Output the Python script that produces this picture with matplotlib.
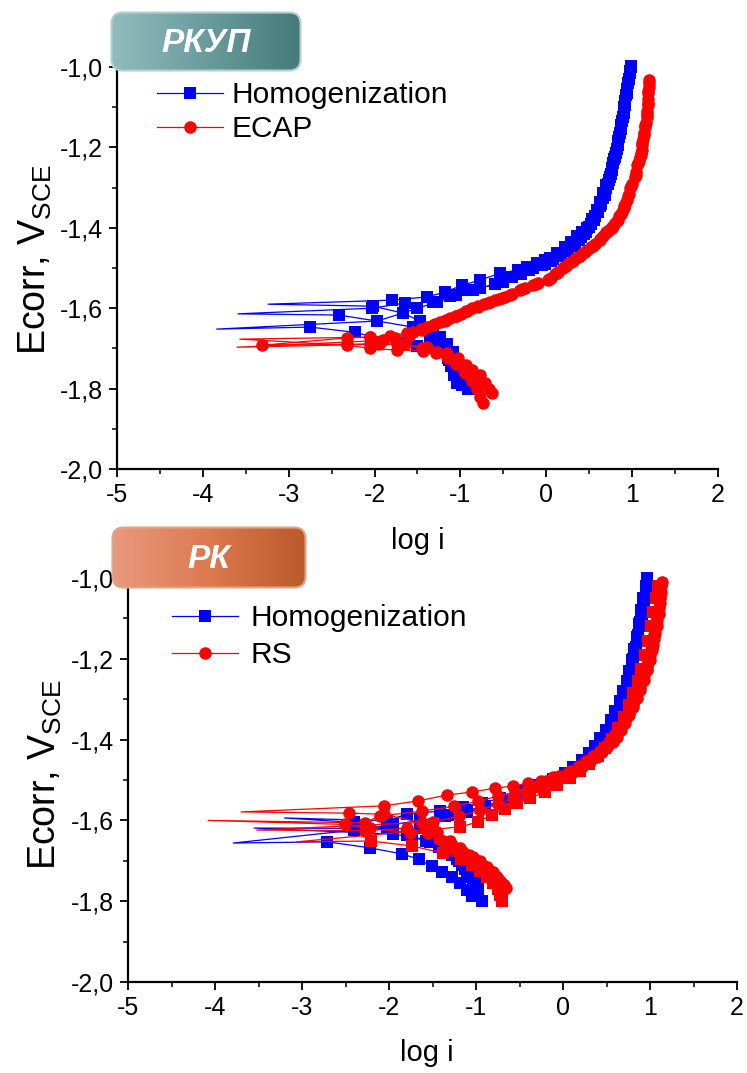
import numpy as np
import matplotlib
matplotlib.use("Agg")
import matplotlib.pyplot as plt
from matplotlib.patches import FancyBboxPatch
from matplotlib.colors import LinearSegmentedColormap
from matplotlib.lines import Line2D
from matplotlib.ticker import MultipleLocator, FuncFormatter
from matplotlib import font_manager

# ---------------- data (log i, E) ----------------
# Top panel (РКУП): Homogenization runs (blue squares)
TOP_H1_X = [-0.91, -0.93, -0.97, -1.03, -1.09, -1.16, -1.24, -1.32, -1.47, -1.67, -2.02, -3.24,
            -1.80, -1.39, -1.18, -0.98, -0.77, -0.54, -0.33, -0.23, -0.11, -0.02, 0.04, 0.13, 0.22,
            0.29, 0.36, 0.42, 0.47, 0.53, 0.59, 0.63, 0.66, 0.70, 0.74, 0.77, 0.80, 0.83, 0.86,
            0.885, 0.91, 0.93, 0.95, 0.97, 0.99]
TOP_H1_Y = [-1.80, -1.78, -1.76, -1.735, -1.71, -1.688, -1.672, -1.655, -1.632, -1.612, -1.595, -1.59,
            -1.58, -1.572, -1.56, -1.543, -1.53, -1.513, -1.505, -1.497, -1.488, -1.48, -1.474, -1.462,
            -1.448, -1.435, -1.42, -1.41, -1.40, -1.378, -1.356, -1.335, -1.313, -1.294, -1.274,
            -1.25, -1.224, -1.195, -1.165, -1.135, -1.10, -1.07, -1.04, -1.015, -0.998]
TOP_H2_X = [-1.04, -1.07, -1.11, -1.15, -1.20, -1.27, -1.36, -1.55, -1.97, -2.42, -3.59,
            -2.03, -1.64, -1.32, -1.12, -0.95, -0.77, -0.50, -0.30, -0.15, -0.02, 0.08, 0.17, 0.25,
            0.33, 0.40, 0.46, 0.52, 0.57, 0.62, 0.66, 0.70, 0.73, 0.76, 0.79, 0.82, 0.85, 0.875,
            0.90, 0.92, 0.94, 0.96]
TOP_H2_Y = [-1.786, -1.765, -1.745, -1.725, -1.705, -1.69, -1.67, -1.647, -1.632, -1.617, -1.614,
            -1.60, -1.587, -1.585, -1.57, -1.555, -1.55, -1.535, -1.515, -1.50, -1.49, -1.478,
            -1.465, -1.452, -1.438, -1.424, -1.41, -1.39, -1.37, -1.347, -1.325, -1.30, -1.28,
            -1.255, -1.23, -1.205, -1.175, -1.145, -1.115, -1.085, -1.055, -1.03]
TOP_H3_X = [-0.98, -1.02, -1.07, -1.13, -1.20, -1.32, -1.50, -1.68, -2.23, -2.75, -3.84,
            -1.97, -1.67, -1.50, -1.27, -1.05, -0.85, -0.60, -0.40, -0.20, -0.05, 0.06, 0.15, 0.24,
            0.31, 0.38, 0.44, 0.50, 0.55, 0.60, 0.64, 0.68, 0.72, 0.75, 0.78, 0.81, 0.84, 0.87,
            0.89, 0.915, 0.935, 0.955, 0.975, 0.99]
TOP_H3_Y = [-1.79, -1.77, -1.75, -1.728, -1.71, -1.70, -1.695, -1.69, -1.66, -1.647, -1.652,
            -1.632, -1.612, -1.60, -1.585, -1.568, -1.555, -1.54, -1.522, -1.505, -1.493, -1.483,
            -1.47, -1.458, -1.445, -1.43, -1.416, -1.398, -1.38, -1.36, -1.34, -1.318, -1.29,
            -1.265, -1.24, -1.215, -1.185, -1.155, -1.125, -1.095, -1.065, -1.04, -1.01, -1.0]

# Top panel: ECAP runs (red circles)
TOP_E1_X = [-0.74, -0.77, -0.81, -0.87, -0.95, -1.04, -1.16, -1.27, -1.44, -1.74, -2.05, -2.32, -3.57,
            -2.05, -1.76, -1.55, -1.39, -1.24, -1.12, -0.99, -0.86, -0.73, -0.60, -0.48, -0.31, -0.16,
            0.02, 0.10, 0.19, 0.27, 0.35, 0.43, 0.52, 0.62, 0.70, 0.76, 0.80, 0.85, 0.90, 0.94,
            0.98, 1.03, 1.06, 1.09, 1.11, 1.13, 1.15, 1.17, 1.18, 1.19, 1.20]
TOP_E1_Y = [-1.836, -1.82, -1.80, -1.78, -1.76, -1.74, -1.722, -1.71, -1.706, -1.704, -1.70, -1.692, -1.677,
            -1.672, -1.674, -1.66, -1.647, -1.635, -1.625, -1.615, -1.60, -1.59, -1.58, -1.572, -1.555,
            -1.542, -1.53, -1.515, -1.50, -1.487, -1.475, -1.463, -1.447, -1.43, -1.41, -1.40, -1.388,
            -1.37, -1.35, -1.33, -1.30, -1.274, -1.245, -1.225, -1.206, -1.18, -1.15, -1.124, -1.095,
            -1.065, -1.032]
TOP_E2_X = [-0.63, -0.67, -0.71, -0.77, -0.86, -0.93, -1.03, -1.16, -1.39, -1.74, -2.05, -3.60,
            -1.90, -1.60, -1.45, -1.30, -1.17, -1.05, -0.92, -0.80, -0.66, -0.52, -0.40, -0.25, -0.10,
            0.05, 0.14, 0.23, 0.31, 0.39, 0.48, 0.57, 0.66, 0.73, 0.78, 0.83, 0.88, 0.92, 0.96, 1.00,
            1.05, 1.08, 1.10, 1.12, 1.14, 1.16, 1.175, 1.185, 1.195]
TOP_E2_Y = [-1.81, -1.80, -1.786, -1.766, -1.754, -1.742, -1.725, -1.712, -1.697, -1.69, -1.69, -1.697,
            -1.68, -1.67, -1.655, -1.64, -1.63, -1.62, -1.607, -1.595, -1.585, -1.575, -1.565, -1.55,
            -1.538, -1.525, -1.51, -1.495, -1.482, -1.47, -1.455, -1.44, -1.42, -1.405, -1.395, -1.38,
            -1.36, -1.34, -1.315, -1.29, -1.26, -1.235, -1.215, -1.19, -1.165, -1.14, -1.11, -1.08, -1.05]
TOP_E3_X = [-0.80, -0.84, -0.89, -0.96, -1.05, -1.15, -1.28, -1.45, -1.65, -1.95, -2.32, -3.31,
            -2.32, -2.05, -1.82, -1.62, -1.46, -1.32, -1.18, -1.05, -0.93, -0.80, -0.68, -0.55, -0.42,
            -0.28, -0.12, 0.03, 0.12, 0.21, 0.29, 0.37, 0.45, 0.54, 0.63, 0.71, 0.77, 0.82, 0.87, 0.91,
            0.95, 0.99, 1.04, 1.07, 1.10, 1.12, 1.14, 1.155, 1.17, 1.18, 1.19, 1.20]
TOP_E3_Y = [-1.79, -1.778, -1.765, -1.752, -1.738, -1.725, -1.712, -1.70, -1.69, -1.688, -1.69, -1.692,
            -1.674, -1.672, -1.668, -1.662, -1.652, -1.642, -1.632, -1.62, -1.608, -1.597, -1.588,
            -1.578, -1.567, -1.553, -1.54, -1.527, -1.512, -1.497, -1.485, -1.472, -1.46, -1.445,
            -1.428, -1.41, -1.398, -1.383, -1.365, -1.345, -1.322, -1.297, -1.268, -1.24, -1.218,
            -1.195, -1.17, -1.145, -1.118, -1.09, -1.06, -1.04]

# Bottom panel (РК): Homogenization runs (blue squares)
BOT_H1_X = [-1.00, -1.05, -1.10, -1.16, -1.22, -1.30, -1.42, -1.58, -1.79, -2.02, -2.40, -3.20,
            -2.02, -1.79, -1.41, -1.15, -0.93, -0.72, -0.50, -0.30, -0.12, 0.02, 0.12, 0.22, 0.30,
            0.37, 0.43, 0.49, 0.55, 0.60, 0.65, 0.69, 0.73, 0.76, 0.79, 0.82, 0.845, 0.87, 0.90,
            0.925, 0.95, 0.97]
BOT_H1_Y = [-1.755, -1.74, -1.725, -1.71, -1.695, -1.68, -1.665, -1.65, -1.635, -1.62, -1.605, -1.594,
            -1.601, -1.584, -1.577, -1.568, -1.557, -1.545, -1.528, -1.512, -1.497, -1.482, -1.468,
            -1.45, -1.432, -1.415, -1.395, -1.375, -1.352, -1.33, -1.305, -1.28, -1.255, -1.23,
            -1.203, -1.175, -1.146, -1.115, -1.08, -1.05, -1.02, -1.0]
BOT_H2_X = [-0.98, -1.03, -1.08, -1.13, -1.20, -1.28, -1.36, -1.53, -1.74, -1.95, -3.55,
            -1.64, -1.32, -1.10, -0.90, -0.70, -0.48, -0.28, -0.10, 0.04, 0.14, 0.24, 0.32, 0.39,
            0.45, 0.51, 0.57, 0.62, 0.66, 0.70, 0.74, 0.77, 0.80, 0.83, 0.86, 0.88, 0.91, 0.93, 0.955]
BOT_H2_Y = [-1.77, -1.755, -1.74, -1.72, -1.70, -1.685, -1.665, -1.653, -1.641, -1.634, -1.619,
            -1.62, -1.587, -1.575, -1.565, -1.55, -1.532, -1.515, -1.50, -1.486, -1.472, -1.455,
            -1.437, -1.42, -1.40, -1.38, -1.358, -1.335, -1.31, -1.285, -1.26, -1.235, -1.21,
            -1.18, -1.15, -1.12, -1.09, -1.06, -1.03]
BOT_H3_X = [-0.93, -1.05, -1.10, -1.18, -1.28, -1.39, -1.51, -1.66, -1.85, -2.22, -2.71, -3.79,
            -2.40, -1.95, -1.64, -1.36, -1.12, -0.90, -0.68, -0.46, -0.26, -0.08, 0.06, 0.16, 0.25,
            0.33, 0.40, 0.47, 0.53, 0.58, 0.63, 0.67, 0.71, 0.75, 0.78, 0.81, 0.84, 0.865, 0.89,
            0.915, 0.94, 0.96]
BOT_H3_Y = [-1.80, -1.787, -1.772, -1.755, -1.74, -1.728, -1.713, -1.696, -1.683, -1.668, -1.653, -1.656,
            -1.624, -1.61, -1.60, -1.59, -1.58, -1.568, -1.552, -1.535, -1.518, -1.503, -1.49,
            -1.475, -1.458, -1.44, -1.42, -1.40, -1.378, -1.355, -1.33, -1.305, -1.28, -1.255,
            -1.23, -1.20, -1.17, -1.14, -1.11, -1.08, -1.05, -1.02]

# Bottom panel: RS runs (red; three with circles, one with squares)
BOT_R1_X = [-0.66, -0.69, -0.73, -0.78, -0.84, -0.91, -0.99, -1.08, -1.18, -1.30, -1.45, -1.62, -2.06,
            -2.46, -3.70, -2.06, -1.67, -1.33, -1.05, -0.78, -0.57, -0.40, -0.25, -0.11, 0.06, 0.16,
            0.22, 0.31, 0.39, 0.45, 0.51, 0.57, 0.62, 0.67, 0.71, 0.76, 0.80, 0.85, 0.89, 0.93, 0.97,
            1.00, 1.02, 1.05, 1.08, 1.10, 1.11, 1.13, 1.14]
BOT_R1_Y = [-1.767, -1.757, -1.747, -1.737, -1.726, -1.713, -1.70, -1.685, -1.668, -1.65, -1.628, -1.606,
            -1.585, -1.582, -1.579, -1.564, -1.552, -1.537, -1.53, -1.52, -1.515, -1.508, -1.502,
            -1.493, -1.483, -1.474, -1.468, -1.455, -1.443, -1.43, -1.418, -1.405, -1.393, -1.375,
            -1.36, -1.34, -1.32, -1.298, -1.277, -1.252, -1.228, -1.203, -1.178, -1.15, -1.12,
            -1.09, -1.062, -1.035, -1.01]
BOT_R2_X = [-0.70, -0.73, -0.77, -0.82, -0.88, -0.95, -1.04, -1.14, -1.25, -1.38, -1.55, -1.76, -2.22,
            -2.51, -4.08, -2.28, -2.10, -1.62, -1.25, -0.98, -0.75, -0.55, -0.37, -0.20, -0.05, 0.08,
            0.18, 0.27, 0.35, 0.42, 0.48, 0.54, 0.60, 0.66, 0.71, 0.76, 0.80, 0.85, 0.89, 0.93, 0.97,
            1.00, 1.03, 1.06, 1.08, 1.10, 1.115, 1.13]
BOT_R2_Y = [-1.775, -1.765, -1.755, -1.745, -1.732, -1.72, -1.705, -1.69, -1.672, -1.652, -1.63, -1.63,
            -1.62, -1.61, -1.60, -1.606, -1.589, -1.577, -1.565, -1.553, -1.54, -1.53, -1.515, -1.503,
            -1.49, -1.478, -1.465, -1.452, -1.44, -1.428, -1.415, -1.40, -1.385, -1.368, -1.35, -1.33,
            -1.31, -1.288, -1.265, -1.24, -1.215, -1.19, -1.165, -1.135, -1.105, -1.075, -1.048, -1.02]
BOT_R3_X = [-0.68, -0.72, -0.76, -0.81, -0.87, -0.95, -1.04, -1.15, -1.28, -1.42, -1.55, -1.79, -2.28,
            -3.52, -1.49, -1.20, -0.95, -0.75, -0.58, -0.42, -0.28, -0.14, 0.00, 0.12, 0.21, 0.29, 0.36,
            0.43, 0.49, 0.55, 0.61, 0.66, 0.71, 0.76, 0.80, 0.84, 0.88, 0.92, 0.96, 0.99, 1.02, 1.05,
            1.07, 1.09, 1.11]
BOT_R3_Y = [-1.76, -1.75, -1.74, -1.728, -1.716, -1.70, -1.69, -1.678, -1.66, -1.645, -1.63, -1.62,
            -1.625, -1.624, -1.604, -1.59, -1.575, -1.56, -1.545, -1.53, -1.518, -1.505, -1.492, -1.48,
            -1.467, -1.455, -1.443, -1.43, -1.418, -1.402, -1.388, -1.37, -1.352, -1.333, -1.313,
            -1.292, -1.27, -1.245, -1.22, -1.195, -1.17, -1.14, -1.11, -1.08, -1.05]
BOT_RS_X = [-0.70, -0.72, -0.75, -0.80, -0.87, -0.95, -1.05, -1.17, -1.38, -1.74, -2.21, -3.06,
            -1.18, -0.98, -0.82, -0.67, -0.53, -0.38, -0.21, -0.07, 0.08, 0.20, 0.30, 0.40, 0.48,
            0.56, 0.63, 0.70, 0.76, 0.81, 0.86, 0.90, 0.94, 0.98, 1.01, 1.04, 1.07, 1.09]
BOT_RS_Y = [-1.80, -1.785, -1.77, -1.755, -1.74, -1.725, -1.71, -1.695, -1.681, -1.663, -1.651, -1.653,
            -1.616, -1.604, -1.587, -1.572, -1.557, -1.545, -1.53, -1.512, -1.495, -1.478, -1.46,
            -1.44, -1.42, -1.398, -1.372, -1.345, -1.315, -1.285, -1.255, -1.225, -1.19, -1.155,
            -1.12, -1.085, -1.05, -1.02]

X_TICKS = [-5, -4, -3, -2, -1, 0, 1, 2]
Y_TICKS = [-2.0, -1.8, -1.6, -1.4, -1.2, -1.0]
TOP_TITLE = "РКУП"
BOT_TITLE = "РК"
TOP_LABELS = ["Homogenization", "ECAP"]
BOT_LABELS = ["Homogenization", "RS"]

# ---------------- styling ----------------
W, H = 747, 1073
DPI = 100
BLUE = "#0000ff"
RED = "#ff0000"
MS_SQ = 8.0
MS_CI = 9.0
names = {f.name for f in font_manager.fontManager.ttflist}
MAIN_FONT = "Liberation Sans" if "Liberation Sans" in names else "DejaVu Sans"
TICK_FONT = "Liberation Sans Narrow" if "Liberation Sans Narrow" in names else MAIN_FONT
plt.rcParams["font.family"] = [MAIN_FONT, "DejaVu Sans"]
plt.rcParams["mathtext.fontset"] = "custom"
plt.rcParams["mathtext.rm"] = MAIN_FONT

fig = plt.figure(figsize=(W / DPI, H / DPI), dpi=DPI)
fig.patch.set_facecolor("white")


def px_rect(left, top, right, bottom):
    return [left / W, 1 - bottom / H, (right - left) / W, (bottom - top) / H]


def draw_run(ax, xs, ys, color, marker, ms, tail_marker=False):
    xs = np.asarray(xs)
    ys = np.asarray(ys)
    tail = int(np.argmin(xs))
    idx = [i for i in range(len(xs)) if tail_marker or i != tail]
    ax.plot(xs, ys, color=color, lw=0.9, marker=marker, ms=ms, mew=0,
            markevery=idx, clip_on=False, zorder=3)


def style_axes(ax, xlabel_pos, ylabel_pos):
    ax.set_xlim(-5, 2)
    ax.set_ylim(-2.0, -1.0)
    for s in ["top", "right"]:
        ax.spines[s].set_visible(False)
    for s in ["left", "bottom"]:
        ax.spines[s].set_linewidth(1.6)
    ax.set_xticks(X_TICKS)
    ax.set_yticks(Y_TICKS)
    ax.xaxis.set_minor_locator(MultipleLocator(0.5))
    ax.yaxis.set_minor_locator(MultipleLocator(0.1))
    ax.xaxis.set_major_formatter(FuncFormatter(lambda v, p: f"{v:.0f}"))
    ax.yaxis.set_major_formatter(FuncFormatter(lambda v, p: f"{v:.1f}".replace(".", ",")))
    ax.tick_params(which="major", direction="out", length=6, width=1.3, labelsize=18, pad=4)
    ax.tick_params(which="minor", direction="out", length=3.5, width=1.1)
    for lab in ax.get_xticklabels() + ax.get_yticklabels():
        lab.set_fontfamily([TICK_FONT, "DejaVu Sans"])
    ax.set_xlabel("log i", fontsize=21)
    ax.set_ylabel(r"Ecorr, V$_{\mathregular{SCE}}$", fontsize=27)
    ax.xaxis.set_label_coords(*xlabel_pos)
    ax.yaxis.set_label_coords(*ylabel_pos)


def badge(left, top, w, h, text, c_left, c_mid, c_right, edge):
    bax = fig.add_axes(px_rect(left, top, left + w, top + h), zorder=10)
    bax.set_xlim(0, w)
    bax.set_ylim(0, h)
    bax.axis("off")
    patch = FancyBboxPatch((1.5, 1.5), w - 3, h - 3,
                           boxstyle="round,pad=0,rounding_size=11",
                           fc="none", ec=edge, lw=1.5, zorder=3)
    bax.add_patch(patch)
    cmap = LinearSegmentedColormap.from_list("b", [c_left, c_mid, c_right])
    grad = np.linspace(0, 1, 256)[None, :]
    im = bax.imshow(grad, extent=(0, w, 0, h), cmap=cmap, aspect="auto",
                    interpolation="bicubic", zorder=1)
    im.set_clip_path(patch)
    bax.set_xlim(0, w)
    bax.set_ylim(0, h)
    bax.text(w / 2, h / 2 - 2, text, color="white", fontsize=24, fontweight="bold",
             fontstyle="italic", ha="center", va="center",
             family=[MAIN_FONT, "DejaVu Sans"], zorder=4)


# ---------------- top panel ----------------
ax1 = fig.add_axes(px_rect(117, 67, 718, 469))
for xs, ys in [(TOP_H1_X, TOP_H1_Y), (TOP_H2_X, TOP_H2_Y), (TOP_H3_X, TOP_H3_Y)]:
    draw_run(ax1, xs, ys, BLUE, "s", MS_SQ)
draw_run(ax1, TOP_E1_X, TOP_E1_Y, RED, "o", MS_CI)
draw_run(ax1, TOP_E2_X, TOP_E2_Y, RED, "o", MS_CI)
draw_run(ax1, TOP_E3_X, TOP_E3_Y, RED, "o", MS_CI, tail_marker=True)
style_axes(ax1, (0.5, -0.145), (-0.105, 0.52))
h1 = [Line2D([], [], color=BLUE, lw=0.9, marker="s", ms=MS_SQ, mew=0),
      Line2D([], [], color=RED, lw=0.9, marker="o", ms=MS_CI, mew=0)]
ax1.legend(h1, TOP_LABELS, loc="upper left", bbox_to_anchor=(0.067, 0.965), frameon=False,
           fontsize=21.5, handlelength=2.2, handletextpad=0.3, labelspacing=0.2,
           borderpad=0, borderaxespad=0, numpoints=1)

# ---------------- bottom panel ----------------
ax2 = fig.add_axes(px_rect(128, 578, 737, 982))
for xs, ys in [(BOT_H1_X, BOT_H1_Y), (BOT_H2_X, BOT_H2_Y), (BOT_H3_X, BOT_H3_Y)]:
    draw_run(ax2, xs, ys, BLUE, "s", MS_SQ)
draw_run(ax2, BOT_RS_X, BOT_RS_Y, RED, "s", MS_SQ)
for xs, ys in [(BOT_R1_X, BOT_R1_Y), (BOT_R2_X, BOT_R2_Y), (BOT_R3_X, BOT_R3_Y)]:
    draw_run(ax2, xs, ys, RED, "o", MS_CI)
style_axes(ax2, (0.49, -0.14), (-0.105, 0.512))
h2 = [Line2D([], [], color=BLUE, lw=0.9, marker="s", ms=MS_SQ, mew=0),
      Line2D([], [], color=RED, lw=0.9, marker="o", ms=MS_CI, mew=0)]
ax2.legend(h2, BOT_LABELS, loc="upper left", bbox_to_anchor=(0.072, 0.935), frameon=False,
           fontsize=21.5, handlelength=2.2, handletextpad=0.45, labelspacing=0.3,
           borderpad=0, borderaxespad=0, numpoints=1)

# ---------------- title badges ----------------
badge(110, 11, 192, 61, TOP_TITLE, "#93bcbe", "#6a9c9d", "#447a7a", "#b4cfd0")
badge(111, 526, 196, 63, BOT_TITLE, "#e99a80", "#dc7a50", "#b95a28", "#e0a585")

fig.savefig("out.png", dpi=DPI, facecolor="white")
